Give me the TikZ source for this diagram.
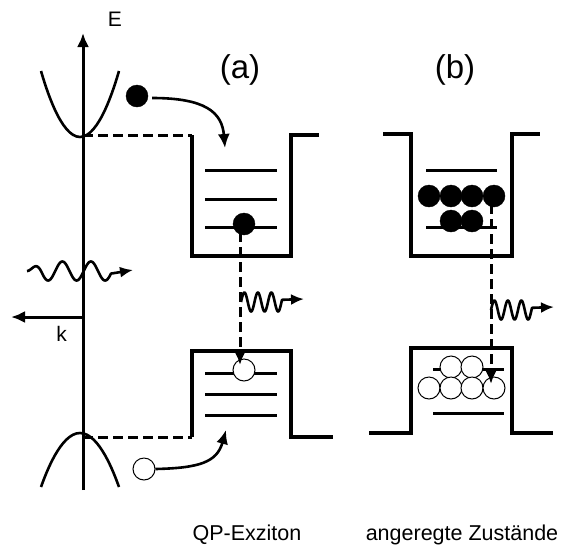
\documentclass[tikz,border=0pt]{standalone}
\usepackage{fontspec}
\setmainfont{Liberation Sans}
\usetikzlibrary{arrows.meta}
\begin{document}
\begin{tikzpicture}[x=1pt,y=-1pt,
  axisline/.style={line width=3pt},
  curveline/.style={line width=2.6pt},
  wellline/.style={line width=3.3pt, line join=miter},
  levelline/.style={line width=3pt},
  dashline/.style={line width=3pt, dash pattern=on 10pt off 5pt},
  waveline/.style={line width=2.6pt, line join=round},
  edot/.style={circle, fill=black, draw=black, inner sep=0pt, minimum size=22pt},
  hdot/.style={circle, fill=white, draw=black, line width=1pt, inner sep=0pt, minimum size=22pt},
  bigtip/.style={-{Latex[length=14pt,width=12pt]}},
  smalltip/.style={-{Latex[length=13pt,width=11pt]}},
  lab/.style={inner sep=0pt, anchor=base}
]
\useasboundingbox (0,0) rectangle (570,547);

% axes
\coordinate (Ebot) at (83,490);
\coordinate (Etop) at (83,33);
\draw[axisline, bigtip] (Ebot) -- (Etop);
\coordinate (korig) at (83,317);
\coordinate (kend) at (11,317);
\draw[axisline, bigtip] (korig) -- (kend);
\node[lab, font=\fontsize{21}{25}\selectfont] (Elab) at (115,26.5) {E};
\node[lab, font=\fontsize{21}{25}\selectfont] (klab) at (61.5,341) {k};

% bands
\draw[curveline] (41,71) parabola bend (80,137) (119,71);
\draw[curveline] (41,487) parabola bend (80,433) (119,487);

% photon crossing the axis
\draw[waveline, smalltip] plot[domain=27:111, samples=120, smooth] ({\x},{271+9.5*min(1,(\x-27)/16)*sin(12.6316*(\x-41))}) -- (133,270);

% ---------- (a) ----------
\node[lab, font=\fontsize{33}{38}\selectfont] (alab) at (240,78) {(a)};
\coordinate (cbA) at (83,135);
\coordinate (wa1) at (192,135);
\draw[dashline] (cbA) -- (wa1);
\draw[wellline] (wa1) -- (192,256) -- (291,256) -- (291,135) -- (319,135);
\draw[levelline] (205,170) -- (277,170);
\draw[levelline] (205,199) -- (277,199);
\draw[levelline] (205,227) -- (277,227);

\coordinate (vbA) at (83,437);
\coordinate (wa2) at (192,437);
\draw[dashline] (vbA) -- (wa2);
\draw[wellline] (wa2) -- (192,351) -- (291,351) -- (291,437) -- (333,437);
\draw[levelline] (205,373) -- (277,373);
\draw[levelline] (205,394) -- (277,394);
\draw[levelline] (205,415) -- (277,415);

\node[edot] (e1) at (137,96) {};
\coordinate (t1) at (225,148);
\draw[curveline, bigtip] (e1.east) ++(4,2) .. controls (205,98) and (222,112) .. (t1);

\node[hdot] (h1) at (144,469) {};
\coordinate (t2) at (226,430);
\draw[curveline, bigtip] (h1.east) .. controls (200,468) and (217,462) .. (t2);

\node[edot] (e2) at (244,224) {};
\node[hdot] (h2) at (244,370) {};
\coordinate (tA) at (240,365);
\draw[dashline, bigtip] (240,232) -- (tA);

\draw[waveline, smalltip] plot[domain=241:282, samples=100, smooth] ({\x},{302-9.5*sin(26.6667*(\x-241))}) -- (304,299);

% ---------- (b) ----------
\node[lab, font=\fontsize{33}{38}\selectfont] (blab) at (455,78) {(b)};
\draw[wellline] (383,134) -- (411,134) -- (411,256) -- (512,256) -- (512,134) -- (540,134);
\draw[levelline] (426,170) -- (497,170);
\draw[levelline] (426,227) -- (497,227);

\draw[wellline] (369,433) -- (411,433) -- (411,348) -- (512,348) -- (512,433) -- (553,433);
\draw[levelline] (433,369) -- (504,369);
\draw[levelline] (433,413) -- (504,413);

\foreach \xx/\nn in {429/1,451/2,472/3,494/4} {\node[edot] (be\nn) at (\xx,196) {};}
\foreach \xx/\nn in {451/5,472/6} {\node[edot] (be\nn) at (\xx,221) {};}
\foreach \xx/\nn in {451/1,472/2} {\node[hdot] (bh\nn) at (\xx,367) {};}
\foreach \xx/\nn in {429/3,451/4,472/5,494/6} {\node[hdot] (bh\nn) at (\xx,388) {};}

\coordinate (tB) at (491,384);
\draw[dashline, bigtip] (491,204) -- (tB);

\draw[waveline, smalltip] plot[domain=491:532, samples=100, smooth] ({\x},{310-9.5*sin(26.6667*(\x-491))}) -- (554,307);

% captions
\node[lab, font=\fontsize{21.5}{26}\selectfont] (capA) at (247,540.5) {QP-Exziton};
\node[lab, font=\fontsize{21.5}{26}\selectfont] (capB) at (462,540.5) {angeregte Zustände};
\end{tikzpicture}
\end{document}
